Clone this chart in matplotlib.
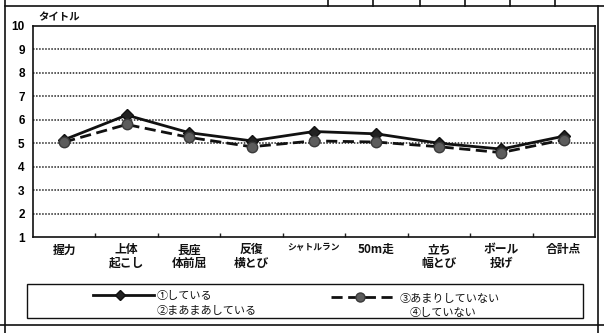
import matplotlib
matplotlib.use("Agg")
import matplotlib.pyplot as plt
from matplotlib.lines import Line2D
from matplotlib.patches import Rectangle

plt.rcParams['font.family'] = ['Noto Sans CJK JP', 'DejaVu Sans']

# Fitness test items (category axis)
categories = ["握力", "上体\n起こし", "長座\n体前屈", "反復\n横とび", "シャトルラン",
              "50m走", "立ち\n幅とび", "ボール\n投げ", "合計点"]

# Group ①② (does exercise) and group ③④ (rarely / never)
active_scores = [5.15, 6.2, 5.45, 5.1, 5.5, 5.4, 5.0, 4.75, 5.3]
inactive_scores = [5.05, 5.8, 5.25, 4.85, 5.1, 5.05, 4.85, 4.6, 5.15]

active_label = ["①している", "②まあまあしている"]
inactive_label = ["③あまりしていない", "④していない"]
y_title = "タイトル"
y_ticks = list(range(1, 11))

W, H = 604, 333
fig = plt.figure(figsize=(W / 100, H / 100), dpi=100)
fig.patch.set_facecolor("white")


def fx(px):
    return px / W


def fy(py):
    return 1 - py / H


ax = fig.add_axes([fx(33), fy(237), fx(595) - fx(33), fy(26) - fy(237)])
ax.set_facecolor("white")
x = list(range(len(categories)))

ax.set_xlim(-0.5, len(categories) - 0.5)
ax.set_ylim(1, 10)
ax.set_yticks(y_ticks)
ax.set_yticklabels([str(t) for t in y_ticks], family="Liberation Sans",
                   fontsize=8.5, fontweight="bold")
ax.tick_params(axis="y", length=0, pad=6)

# category labels centred under each item, ticks on category boundaries
ax.set_xticks([i + 0.5 for i in x[:-1]])
ax.set_xticklabels([])
ax.tick_params(axis="x", direction="in", length=3, width=1, color="#222")
for i, lab in enumerate(categories):
    fs = 6.3 if lab == "シャトルラン" else 8.5
    ax.text(i, -0.03, lab, transform=ax.get_xaxis_transform(), ha="center",
            va="top", fontsize=fs, fontweight="bold", linespacing=1.05,
            color="#111")

for v in y_ticks[1:-1]:
    ax.axhline(v, color="#222", linestyle=(0, (1, 1)), linewidth=1.1, zorder=1)

for s in ax.spines.values():
    s.set_color("#111")
    s.set_linewidth(1.2)

ax.plot(x, active_scores, color="#111", linewidth=2.0, marker="D",
        markersize=6.5, markerfacecolor="#222", markeredgecolor="#111", zorder=3)
ax.plot(x, inactive_scores, color="#111", linewidth=2.0, linestyle=(0, (4, 2)),
        marker="o", markersize=7.5, markerfacecolor="#5c5c5c",
        markeredgecolor="#3a3a3a", zorder=4)

fig.text(fx(38), fy(17), y_title, fontsize=7.5, fontweight="bold",
         ha="left", va="center", color="#111")

# legend box
fig.add_artist(Rectangle((fx(27), fy(318)), fx(583) - fx(27), fy(284) - fy(318),
                         transform=fig.transFigure, fill=False,
                         edgecolor="#111", linewidth=1.0))
fig.add_artist(Line2D([fx(93), fx(154)], [fy(295), fy(295)], color="#111",
                      linewidth=2.0))
fig.add_artist(Line2D([fx(120)], [fy(295)], marker="D", markersize=5.5,
                      color="#222", markeredgecolor="#111"))
fig.add_artist(Line2D([fx(331), fx(395)], [fy(297), fy(297)], color="#111",
                      linewidth=2.0, linestyle=(0, (4, 2))))
fig.add_artist(Line2D([fx(360)], [fy(297)], marker="o", markersize=6.5,
                      color="#5c5c5c", markeredgecolor="#3a3a3a"))
fig.text(fx(157), fy(296), active_label[0], fontsize=8, ha="left", va="center",
         color="#111")
fig.text(fx(157), fy(311), active_label[1], fontsize=8, ha="left", va="center",
         color="#111")
fig.text(fx(400), fy(299), inactive_label[0], fontsize=8, ha="left",
         va="center", color="#111")
fig.text(fx(410), fy(313), inactive_label[1], fontsize=8, ha="left",
         va="center", color="#111")

# outer page frame and the edge of the table above
frame_kw = dict(transform=fig.transFigure, color="#111", linewidth=1.2)
fig.add_artist(Line2D([fx(5), fx(5)], [fy(0), fy(333)], **frame_kw))
fig.add_artist(Line2D([fx(598), fx(598)], [fy(6), fy(333)], **frame_kw))
fig.add_artist(Line2D([fx(0), fx(604)], [fy(325), fy(325)], **frame_kw))
fig.add_artist(Line2D([fx(5), fx(604)], [fy(6), fy(6)], **frame_kw))
for px in [328, 373, 420, 465, 510, 555]:
    fig.add_artist(Line2D([fx(px), fx(px)], [fy(0), fy(6)], **frame_kw))

fig.savefig("out.png", dpi=100, facecolor="white")
